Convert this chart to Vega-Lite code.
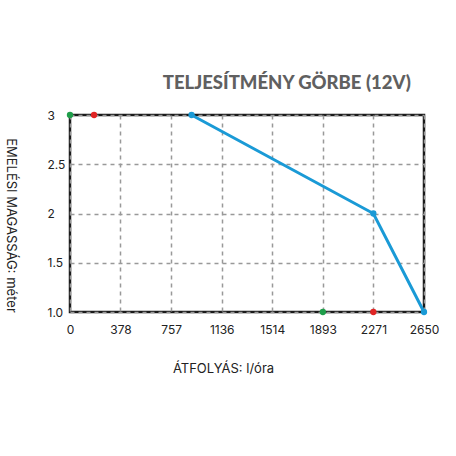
{
  "$schema": "https://vega.github.io/schema/vega-lite/v6.json",
  "autosize": "none",
  "padding": {"left": 70, "top": 115, "right": 32, "bottom": 144},
  "width": 354,
  "height": 197,
  "background": "white",
  "title": {
    "text": "TELJESÍTMÉNY GÖRBE (12V)",
    "anchor": "end",
    "dx": -28,
    "offset": 17,
    "font": "Lato",
    "fontSize": 18.5,
    "fontWeight": 900,
    "color": "#606060"
  },
  "datasets": {
    "points": [
      {"flow": 910, "head": 3, "kind": "curve"},
      {"flow": 2271, "head": 2, "kind": "curve"},
      {"flow": 2650, "head": 1, "kind": "curve"},
      {"flow": 0, "head": 3, "kind": "green"},
      {"flow": 1893, "head": 1, "kind": "green"},
      {"flow": 180, "head": 3, "kind": "red"},
      {"flow": 2271, "head": 1, "kind": "red"}
    ]
  },
  "data": {"name": "points"},
  "encoding": {
    "x": {
      "field": "flow",
      "type": "quantitative",
      "scale": {"domain": [0, 2650], "nice": false, "zero": false},
      "axis": {
        "values": [0, 378, 757, 1136, 1514, 1893, 2271, 2650],
        "format": "d",
        "labelFlush": false,
        "title": "ÁTFOLYÁS: l/óra",
        "titleX": 153,
        "titleY": 56,
        "titleBaseline": "middle",
        "titleFontWeight": "normal",
        "titleFontSize": 13,
        "titleColor": "#222222",
        "domain": false,
        "ticks": false,
        "labelPadding": 12,
        "labelFontSize": 12,
        "labelColor": "#222222",
        "grid": true,
        "gridColor": "#999999",
        "gridDash": [4, 4],
        "gridWidth": 1.5
      }
    },
    "y": {
      "field": "head",
      "type": "quantitative",
      "scale": {"domain": [1, 3], "nice": false, "zero": false},
      "axis": {
        "values": [1, 1.5, 2, 2.5, 3],
        "labelExpr": "datum.value == 1 ? '1.0' : format(datum.value, '~g')",
        "labelFlush": false,
        "title": "EMELÉSI MAGASSÁG: méter",
        "titleAngle": 90,
        "titleX": -60,
        "titleY": 110,
        "titleAlign": "center",
        "titleBaseline": "middle",
        "titleFontWeight": "normal",
        "titleFontSize": 13,
        "titleColor": "#222222",
        "domain": false,
        "ticks": false,
        "labelAlign": "left",
        "labelPadding": 23,
        "labelFontSize": 12,
        "labelColor": "#222222",
        "grid": true,
        "gridColor": "#999999",
        "gridDash": [4, 4],
        "gridWidth": 1.5
      }
    },
    "color": {
      "field": "kind",
      "type": "nominal",
      "scale": {"domain": ["curve", "green", "red"], "range": ["#1a9ad6", "#1f9e4a", "#e02525"]},
      "legend": null
    }
  },
  "layer": [
    {
      "transform": [{"filter": "datum.kind == 'curve'"}],
      "mark": {"type": "line", "strokeWidth": 3, "clip": false}
    },
    {
      "mark": {"type": "point", "filled": true, "opacity": 1, "size": 40, "clip": false}
    }
  ],
  "config": {
    "font": "Inter",
    "view": {"stroke": "#1a1a1a", "strokeWidth": 2.5}
  }
}
